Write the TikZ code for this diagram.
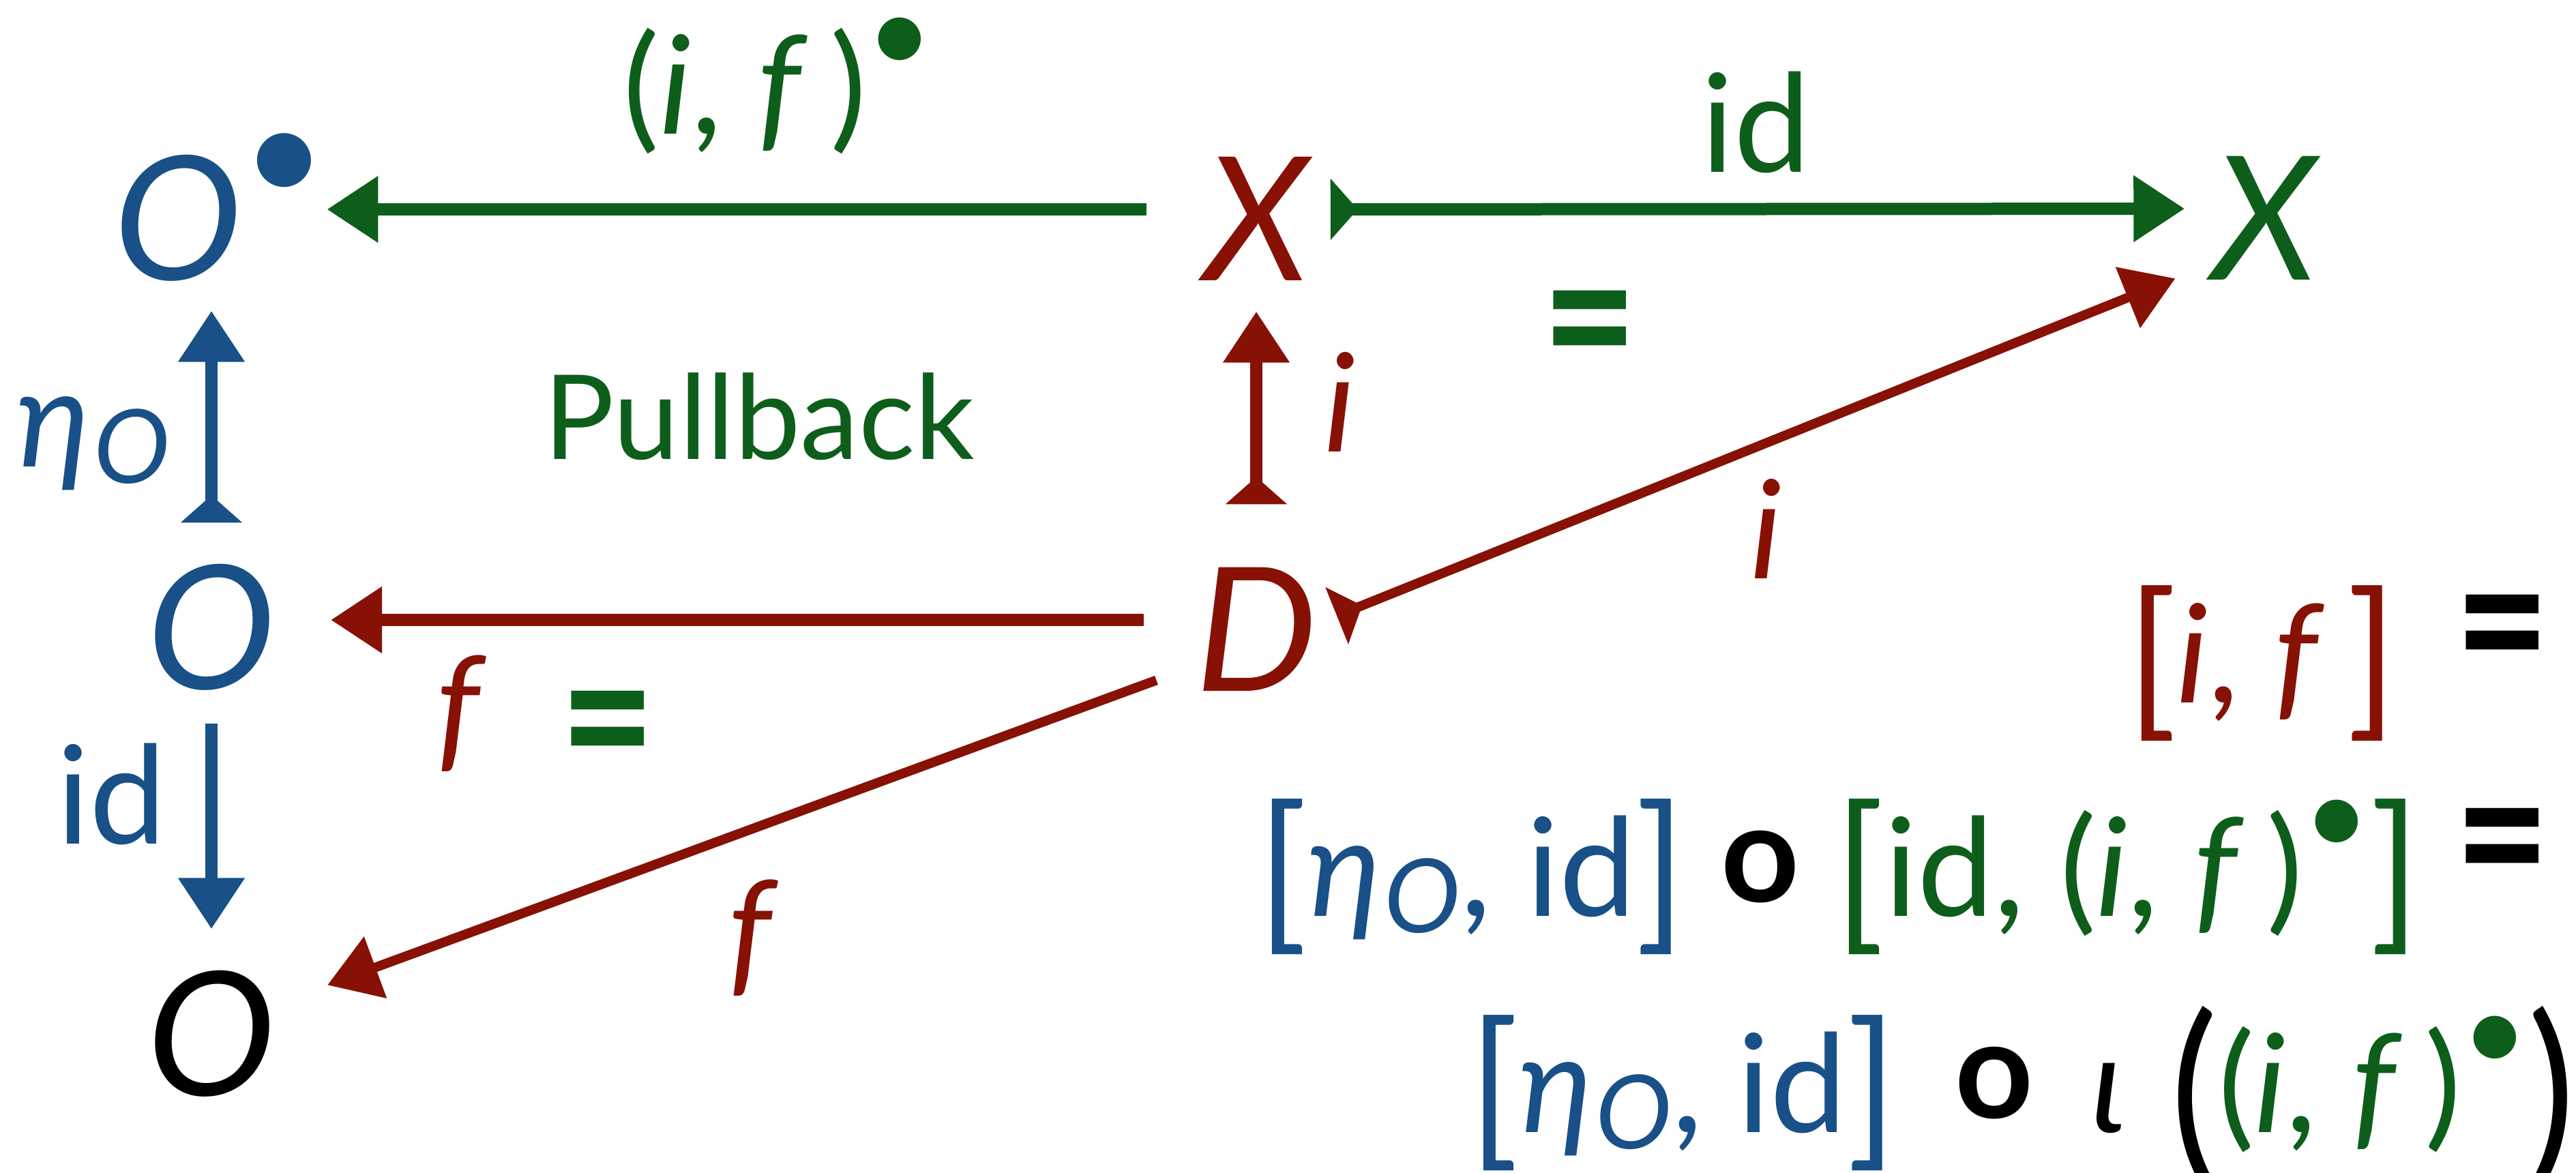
\documentclass[tikz,border=0pt]{standalone}
\usepackage{fontspec}
\setmainfont{Lato}
\usepackage{graphicx}
\usetikzlibrary{arrows.meta,positioning}

\definecolor{cblue}{RGB}{24,80,135}
\definecolor{cgreen}{RGB}{14,94,27}
\definecolor{cred}{RGB}{134,17,4}

\newcommand{\sbul}{\raisebox{0.44em}{\scalebox{0.84}{•}}}
\newcommand{\etaO}{\textit{η\kern0.02em\raisebox{-0.12em}{\scalebox{0.75}{O}}}}
\newcommand{\beq}{\raisebox{0.08em}{\scalebox{1.2}[1.5]{\bfseries =}}}
\newcommand{\ring}{\raisebox{0.1em}{\bfseries o}}
\newcommand{\bigp}[1]{\raisebox{-0.2em}{\scalebox{1.3}[1.45]{#1}}}
\newcommand{\brk}[1]{\raisebox{-0.1em}{\scalebox{1.2}[1.25]{#1}}}

\begin{document}
\begin{tikzpicture}[
  obj/.style={inner sep=0pt, text height=2.08cm, text depth=0pt, font=\fontsize{72}{80}\selectfont\itshape, anchor=base},
  lbl/.style={inner sep=0pt, font=\fontsize{57}{64}\selectfont, anchor=base},
  eqn/.style={inner sep=0pt, font=\fontsize{57}{64}\selectfont, anchor=base east},
  arr/.style={line width=1.8mm, -{Triangle[length=7.5mm,width=9.3mm]}},
  mono/.style={arr, {Triangle[reversed,length=4mm,width=8.8mm]}-{Triangle[length=7.5mm,width=9.3mm]}}
]
\useasboundingbox (0,0) rectangle (37.77,-17.20);

% objects
\node[obj, cblue, anchor=base west] (Ob) at (1.66,-4.10) {O\sbul};
\node[obj, cred] (Xr) at (18.43,-4.11) {X};
\node[obj, cgreen] (Xg) at (33.21,-4.10) {X};
\node[obj, cblue] (Om) at (3.10,-10.10) {O};
\node[obj, cred] (D) at (18.42,-10.13) {D};
\node[obj] (Ok) at (3.10,-16.06) {O};

% labels
\node[lbl, cgreen] (lifb) at (11.41,-1.96) {(\textit{i}, \textit{f}\,)\sbul};
\node[lbl, cgreen] (lid) at (25.75,-2.52) {id};
\node[lbl, cgreen, font=\fontsize{49}{56}\selectfont] (pb) at (11.13,-6.73) {Pullback};
\node[lbl, cblue] (leta) at (1.37,-6.84) {\etaO};
\node[lbl, cred] (li) at (19.65,-6.62) {\textit{i}};
\node[lbl, cred] (li2) at (25.90,-8.48) {\textit{i}};
\node[lbl, cred] (lf) at (6.76,-11.06) {\textit{f}};
\node[lbl, cblue] (lid2) at (1.64,-12.37) {id};
\node[lbl, cred] (lf2) at (11.04,-14.35) {\textit{f}};
\node[inner sep=0pt, cgreen, font=\fontsize{57}{64}\selectfont] (eq1) at (23.31,-5.05) {\beq};
\node[inner sep=0pt, cgreen, font=\fontsize{57}{64}\selectfont] (eq2) at (8.91,-10.92) {\beq};

% equations
\node[eqn] (eqA) at (37.40,-10.30) {\textcolor{cred}{\brk{[}\textit{i}, \textit{f}\,\brk{]}}\, \beq};
\node[eqn] (eqB) at (37.40,-13.43) {\textcolor{cblue}{\brk{[}\etaO, id\brk{]}} \ring{} \textcolor{cgreen}{\brk{[}id, (\textit{i}, \textit{f}\,)\sbul\brk{]}} \beq};
\node[eqn] (eqC) at (37.77,-16.60) {\textcolor{cblue}{\brk{[}\etaO, id\brk{]}}\, \ring{}\, \textit{ι}\,\,\bigp{(}\textcolor{cgreen}{(\textit{i}, \textit{f}\,)\sbul}\bigp{)}};

% arrows
\draw[arr, cgreen, shorten <=8.4mm, shorten >=0mm] (Xr.west) -- (Xr.west -| Ob.east);
\draw[mono, cgreen, shorten <=3mm, shorten >=4mm] (Xr.east) -- (Xg.west);
\draw[mono, cred, shorten <=6.5mm, shorten >=4.5mm] (D.north) -- (D.north |- Xr.south);
\draw[mono, cblue, shorten <=3.5mm, shorten >=4.5mm] (Om.north) -- (Om.north |- Ob.south);
\draw[arr, cblue, shorten <=5mm, shorten >=3.5mm] (Om.south) -- (Om.south |- Ok.north);
\draw[arr, cred, shorten <=7.5mm, shorten >=8mm] (D.west) -- (D.west -| Om.east);
\draw[mono, cred, line width=1.4mm, shorten <=3mm, shorten >=5.8mm] ([yshift=-0.5mm]D.east) -- ([yshift=2.4mm]Xg.south west);
\draw[arr, cred, line width=1.4mm, shorten <=6mm, shorten >=8mm] ([yshift=3.7mm]D.south west) -- ([yshift=3mm]Ok.east);
\end{tikzpicture}
\end{document}
